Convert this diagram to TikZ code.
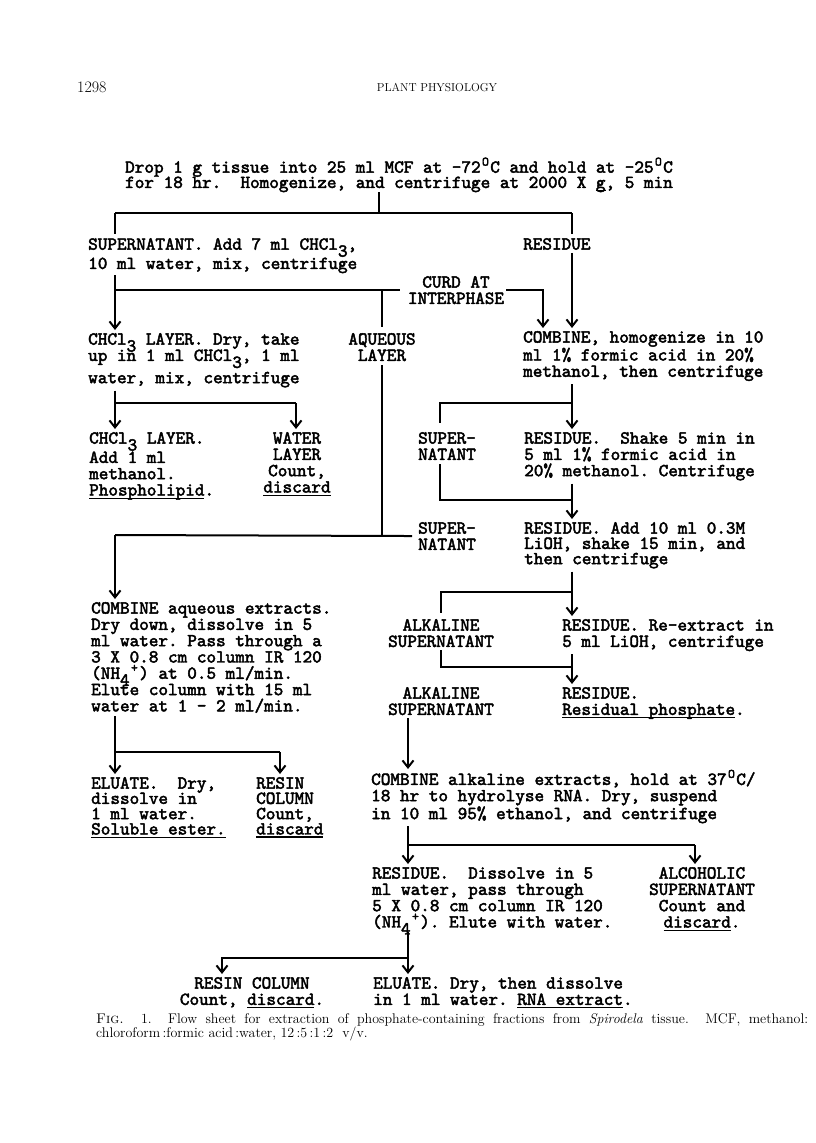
\documentclass[tikz,border=0pt]{standalone}
\usepackage{fontspec}
\usepackage{tikz}
\usetikzlibrary{arrows.meta, positioning, calc}

\newfontfamily\typer{lmmono10-regular.otf}[FakeBold=2.5]
\newlength\twch
\newcommand\twfont{\typer\fontsize{18.3}{16.3}\selectfont\frenchspacing}
\newcommand\twsub[1]{\settowidth\twch{0}\makebox[\twch]{\smash{\raisebox{-7pt}{#1}}}}
\newcommand\twsup[1]{\settowidth\twch{0}\makebox[\twch]{\smash{\raisebox{7pt}{\fontsize{13}{13}\selectfont #1}}}}
\newcommand\twul[1]{\setbox0=\hbox{#1}\rlap{\rule[-3.5pt]{\wd0}{1.5pt}}\box0}

\tikzset{
  tw/.style={font=\twfont, inner sep=0pt, align=left, anchor=north west},
  twc/.style={tw, align=center, anchor=north},
  link/.style={line width=2pt},
  flow/.style={link, -{Straight Barb[length=7pt,width=11pt]}, shorten >=3pt}
}

\begin{document}
\begin{tikzpicture}[x=1pt, y=-1pt]
  \useasboundingbox (0,0) rectangle (816,1143);
  \fill[white] (0,0) rectangle (816,1143);

  % page head
  \node[anchor=west, inner sep=0pt, font=\fontsize{16}{16}\selectfont] (page) at (77,87) {1298};
  \node[inner sep=0pt, font=\fontsize{11.5}{11.5}\selectfont] (journal) at (437,88) {PLANT PHYSIOLOGY};

  % typed steps
  \node[tw] (drop) at (125,161) {Drop 1 g tissue into 25 ml MCF at -72\twsup{O}C and hold at -25\twsup{O}C\\[-1pt]for 18 hr.~~Homogenize, and centrifuge at 2000 X \twul{g}, 5 min};

  \node[tw] (sup) at (88,238) {SUPERNATANT. Add 7 ml CHCl\twsub{3},\\[3pt]10 ml water, mix, centrifuge};
  \node[tw] (res) at (523,238) {RESIDUE};
  \node[twc] (curd) at (456,276) {CURD AT\\INTERPHASE};

  \node[tw] (chl) at (88,333) {CHCl\twsub{3} LAYER. Dry, take\\up in 1 ml CHCl\twsub{3}, 1 ml\\[6pt]water, mix, centrifuge};
  \node[twc] (aq) at (382,333) {AQUEOUS\\LAYER};
  \node[tw] (comb) at (523,331) {COMBINE, homogenize in 10\\ml 1\% formic acid in 20\%\\methanol, then centrifuge};

  \node[tw] (chlb) at (89,432) {CHCl\twsub{3} LAYER.\\[3pt]Add 1 ml\\methanol.\\\twul{Phospholipid}.};
  \node[twc] (wat) at (297,432) {WATER\\LAYER\\Count,\\\twul{discard}};
  \node[tw] (snA) at (418,432) {SUPER-\\NATANT};
  \node[tw] (resA) at (524,432) {RESIDUE.~~Shake 5 min in\\5 ml 1\% formic acid in\\20\% methanol. Centrifuge};

  \node[tw] (snB) at (418,522) {SUPER-\\NATANT};
  \node[tw] (resB) at (524,522) {RESIDUE. Add 10 ml 0.3M\\[-1pt]LiOH, shake 15 min, and\\[-1pt]then centrifuge};

  \node[tw] (caq) at (91,602) {COMBINE aqueous extracts.\\Dry down, dissolve in 5\\ml water. Pass through a\\3 X 0.8 cm column IR 120\\(NH\twsub{4}\twsup{+}) at 0.5 ml/min.\\Elute column with 15 ml\\water at 1 - 2 ml/min.};
  \node[twc] (alA) at (441,619) {ALKALINE\\SUPERNATANT};
  \node[tw] (resC) at (562,619) {RESIDUE. Re-extract in\\5 ml LiOH, centrifuge};
  \node[twc] (alB) at (441,687) {ALKALINE\\SUPERNATANT};
  \node[tw] (resD) at (562,687) {RESIDUE.\\\twul{Residual phosphate}.};

  \node[tw] (elu) at (91,777) {ELUATE.~~Dry,\\[-1pt]dissolve in\\[-1pt]1 ml water.\\[-1pt]\twul{Soluble ester.}};
  \node[tw] (resin) at (256,777) {RESIN\\[-1pt]COLUMN\\[-1pt]Count,\\[-1pt]\twul{discard}};
  \node[tw] (calk) at (371,772) {COMBINE alkaline extracts, hold at 37\twsup{O}C/\\18 hr to hydrolyse RNA. Dry, suspend\\in 10 ml 95\% ethanol, and centrifuge};

  \node[tw] (resE) at (372,867) {RESIDUE.~~Dissolve in 5\\ml water, pass through\\5 X 0.8 cm column IR 120\\(NH\twsub{4}\twsup{+}). Elute with water.};
  \node[twc] (alc) at (702,867) {ALCOHOLIC\\SUPERNATANT\\Count and\\\twul{discard}.};

  \node[twc] (rcol) at (252,977) {RESIN COLUMN\\Count, \twul{discard}.};
  \node[tw] (rna) at (373,977) {ELUATE. Dry, then dissolve\\in 1 ml water. \twul{RNA extract}.};

  % caption
  \node[anchor=north west, inner sep=0pt, align=left, font=\fontsize{14}{13}\selectfont] (cap) at (96,1013)
    {\makebox[712pt][s]{\textsc{Fig.} 1.\ \ Flow sheet for extraction of phosphate-containing fractions from \textit{Spirodela} tissue.\ \ MCF, methanol:}\\
     chloroform\,:formic acid\,:water, 12\,:5\,:1\,:2\ \ v/v.};

  % junctions
  \coordinate (s0) at (379,213);
  \coordinate (s0l) at (115,213);
  \coordinate (s0r) at (572,213);
  \coordinate (s1) at (115,290);
  \coordinate (s1q) at (382,290);
  \coordinate (s1e) at (400,290);
  \coordinate (c1) at (543,290);
  \coordinate (s2) at (115,403);
  \coordinate (s2r) at (296,403);
  \coordinate (s3) at (382,535);
  \coordinate (s3l) at (115,535);
  \coordinate (s4) at (572,403);
  \coordinate (s4l) at (440,403);
  \coordinate (s5) at (572,500);
  \coordinate (s5l) at (440,500);
  \coordinate (s6) at (572,592);
  \coordinate (s6l) at (441,592);
  \coordinate (s7) at (572,667);
  \coordinate (s7l) at (441,667);
  \coordinate (xa) at (408,0);
  \coordinate (s8) at (115,752);
  \coordinate (s8r) at (280,752);
  \coordinate (s9) at (408,845);
  \coordinate (s9r) at (695,845);
  \coordinate (s10) at (408,958);
  \coordinate (s10l) at (222,958);

  % homogenate
  \draw[link] (drop.south -| s0) -- (s0);
  \draw[link] (s0l) -- (s0r);
  \draw[link, shorten >=4pt] (s0l) -- (sup.north -| s0l);
  \draw[link, shorten >=4pt] (s0r) -- (res.north -| s0r);

  % chloroform partition
  \draw[link, shorten <=2pt] (sup.south -| s1) -- (s1) -- (s1e);
  \draw[flow] (s1) -- (chl.north -| s1);
  \draw[link, shorten >=6pt] (s1q) -- (aq.north -| s1q);
  \draw[flow] ([xshift=2pt]curd.east) -| (comb.north -| c1);
  \draw[flow, shorten <=3pt] (res.south -| s0r) -- (comb.north -| s0r);

  \draw[link, shorten <=3pt] (chl.south -| s2) -- (s2) -- (s2r);
  \draw[flow] (s2) -- (chlb.north -| s2);
  \draw[flow] (s2r) -- (wat.north -| s2r);

  \draw[link, shorten <=4pt] (aq.south) -- (s3);
  \draw[link, shorten <=6pt] (snB.west) -- (s3l);
  \draw[flow] (s3l) -- (caq.north -| s3l);

  % residue washes
  \draw[flow, shorten <=3pt] (comb.south -| s4) -- (resA.north -| s4);
  \draw[link, shorten >=9pt] (s4) -- (s4l) -- (snA.north -| s4l);
  \draw[flow, shorten <=3pt] (resA.south -| s5) -- (resB.north -| s5);
  \draw[link, shorten <=4pt] (snA.south -| s5l) -- (s5l) -- (s5);

  % alkaline extraction
  \draw[flow, shorten <=3pt] (resB.south -| s6) -- (resC.north -| s6);
  \draw[link, shorten >=6pt] (s6) -- (s6l) -- (alA.north -| s6l);
  \draw[flow, shorten <=3pt] (resC.south -| s7) -- (resD.north -| s7);
  \draw[link, shorten <=3pt] (alA.south) -- (s7l) -- (s7);
  \draw[flow, shorten <=3pt] (alB.south -| xa) -- (calk.north -| xa);

  % aqueous column
  \draw[link, shorten <=3pt] (caq.south -| s8) -- (s8) -- (s8r);
  \draw[flow] (s8) -- (elu.north -| s8);
  \draw[flow] (s8r) -- (resin.north -| s8r);

  % ethanol step
  \draw[link, shorten <=3pt] (calk.south -| s9) -- (s9) -- (s9r);
  \draw[flow] (s9) -- (resE.north -| s9);
  \draw[flow] (s9r) -- (alc.north -| s9r);

  % RNA column
  \draw[flow, shorten <=3pt] (resE.south -| s10) -- (rna.north -| s10);
  \draw[flow] (s10) -- (s10l) -- (rcol.north -| s10l);
\end{tikzpicture}
\end{document}
